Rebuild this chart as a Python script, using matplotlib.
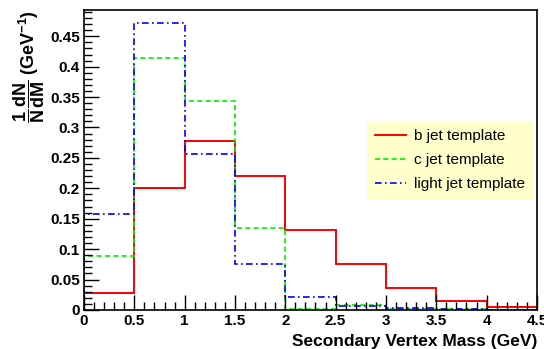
import numpy as np
import matplotlib
matplotlib.use("Agg")
import matplotlib.pyplot as plt
from matplotlib.ticker import MultipleLocator

plt.rcParams['font.family'] = ['Liberation Sans', 'DejaVu Sans']
plt.rcParams['mathtext.fontset'] = 'custom'
plt.rcParams['mathtext.rm'] = 'Liberation Sans'
plt.rcParams['mathtext.bf'] = 'Liberation Sans:bold'

edges = [0, 0.5, 1, 1.5, 2, 2.5, 3, 3.5, 4, 4.5]
b_jet = [0.028, 0.200, 0.277, 0.220, 0.132, 0.076, 0.036, 0.015, 0.004]
c_jet = [0.089, 0.415, 0.343, 0.135, 0.002, 0.008, 0.002, 0.001, 0.0005]
light_jet = [0.157, 0.472, 0.256, 0.076, 0.021, 0.006, 0.003, 0.001, 0.0005]

fig = plt.figure(figsize=(5.44, 3.49), dpi=100)
ax = fig.add_axes([0.1544, 0.112, 0.8326, 0.859])

ax.stairs(b_jet, edges, color='#ff0000', lw=1.4, label='b jet template')
ax.stairs(c_jet, edges, color='#00ee00', lw=1.2, ls=(0, (3, 2)), label='c jet template')
ax.stairs(light_jet, edges, color='#0000ff', lw=1.2, ls=(0, (4, 2, 1, 2)), label='light jet template')

ax.set_xlim(0, 4.5)
ax.set_ylim(0, 0.493)
ax.xaxis.set_minor_locator(MultipleLocator(0.1))
ax.yaxis.set_minor_locator(MultipleLocator(0.01))
ax.set_xticks([0, 0.5, 1, 1.5, 2, 2.5, 3, 3.5, 4, 4.5])
ax.set_xticklabels(['0', '0.5', '1', '1.5', '2', '2.5', '3', '3.5', '4', '4.5'])
ax.set_yticks([0, 0.05, 0.1, 0.15, 0.2, 0.25, 0.3, 0.35, 0.4, 0.45])
ax.set_yticklabels(['0', '0.05', '0.1', '0.15', '0.2', '0.25', '0.3', '0.35', '0.4', '0.45'])
ax.tick_params(which='major', direction='in', length=11, width=1, labelsize=11, pad=3)
ax.tick_params(which='minor', direction='in', length=5.5, width=1)
for lab in ax.get_xticklabels() + ax.get_yticklabels():
    lab.set_fontweight('bold')
for sp in ax.spines.values():
    sp.set_linewidth(1.2)

ax.set_xlabel('Secondary Vertex Mass (GeV)', fontsize=12.5, fontweight='bold', loc='right', labelpad=4)
ax.set_ylabel(r'$\mathbf{\dfrac{1}{N}\dfrac{dN}{dM}}$ (GeV$^{\mathbf{-1}}$)', fontsize=13,
              fontweight='bold', loc='top', labelpad=2)

leg = ax.legend(loc='upper left', bbox_to_anchor=(0.625, 0.63), fontsize=11, frameon=True,
                fancybox=False, edgecolor='none', facecolor='#ffffcc', framealpha=1,
                handlelength=2.0, handletextpad=0.5, borderpad=0.55, labelspacing=0.65,
                borderaxespad=0)

fig.savefig('out.png', dpi=100)
